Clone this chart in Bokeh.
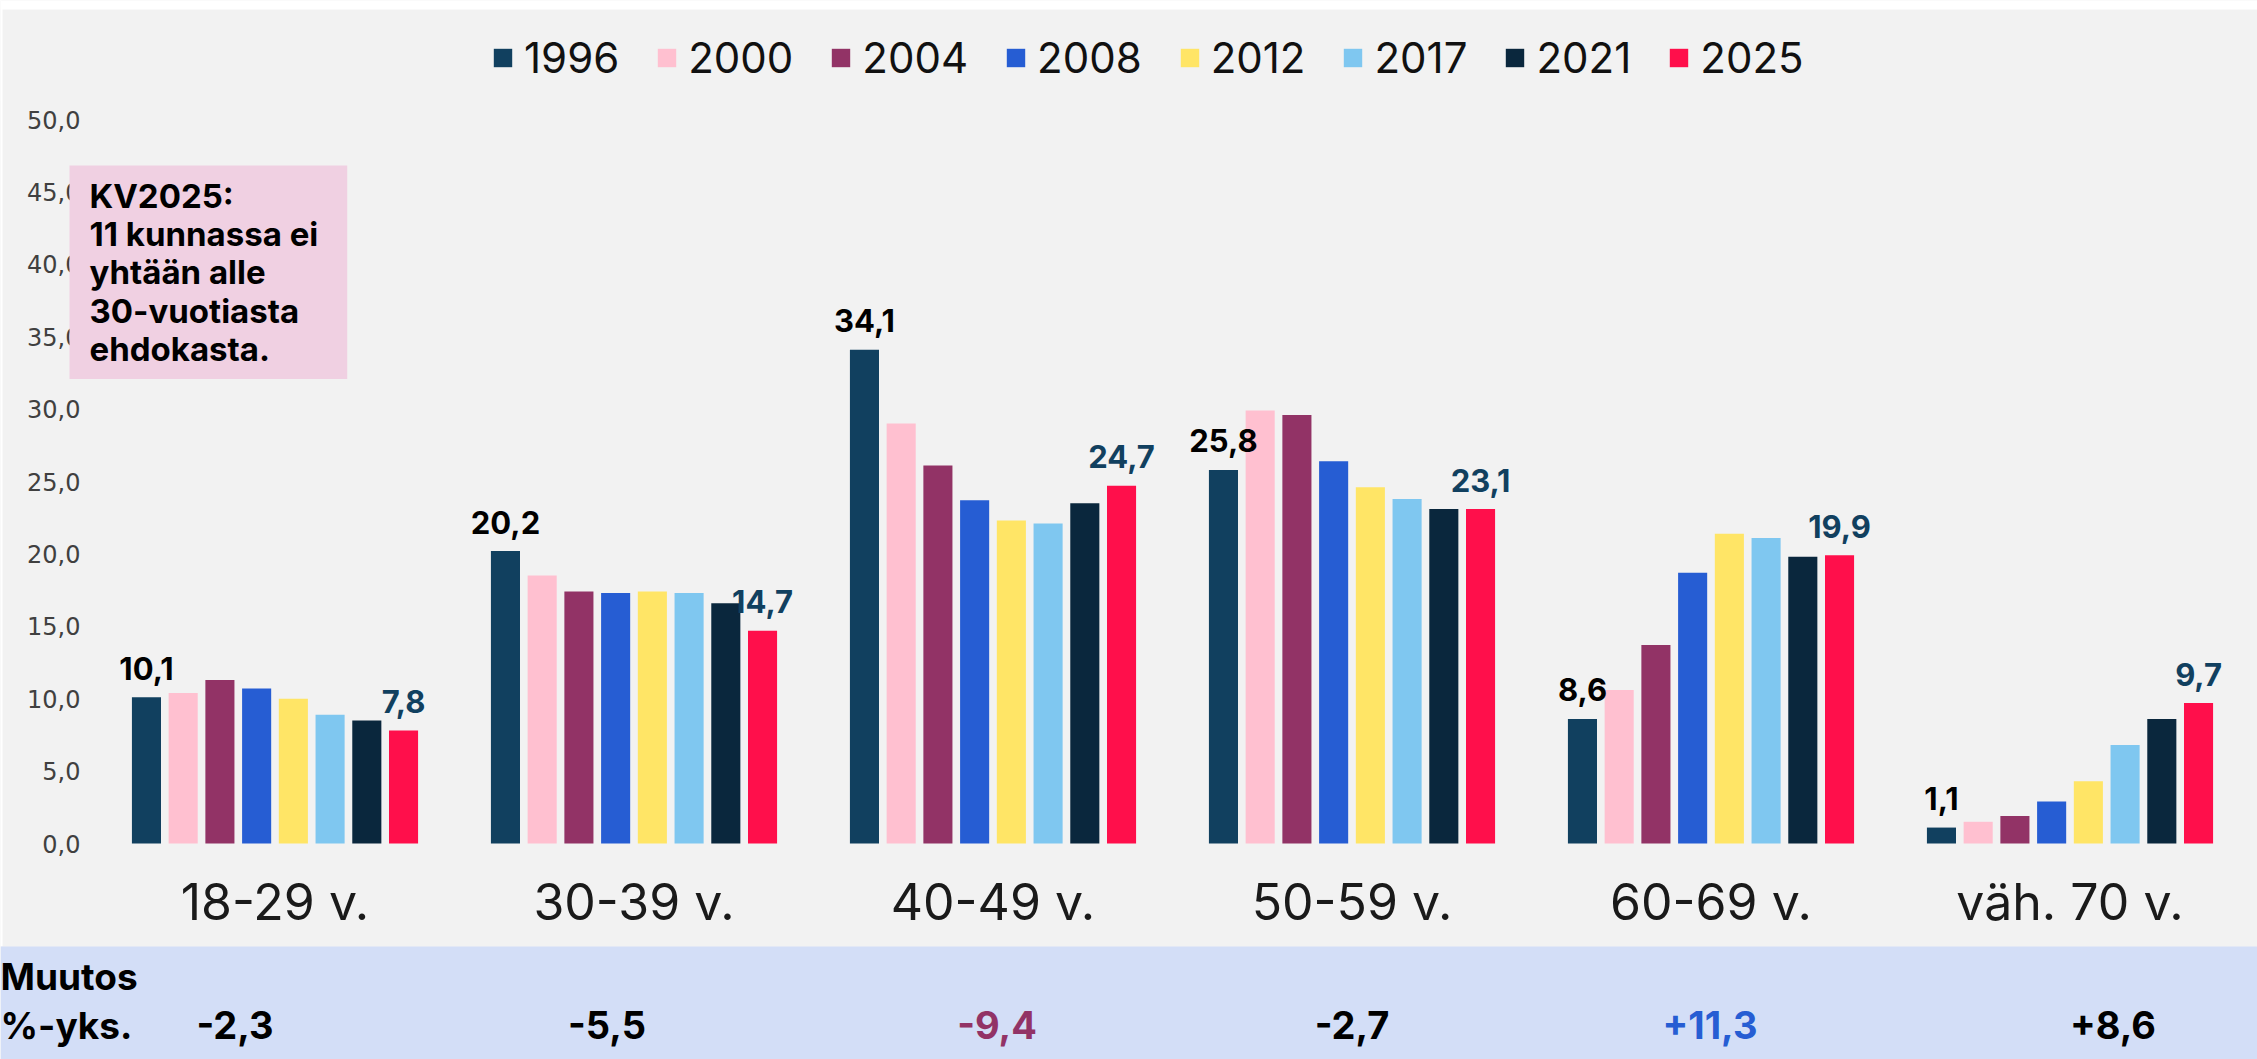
from bokeh.plotting import figure
from bokeh.models import (Range1d, FixedTicker, Legend, LegendItem, LinearAxis,
                          Label, LabelSet, BoxAnnotation, ColumnDataSource)
from bokeh.transform import dodge
from bokeh.embed import file_html
from bokeh.resources import INLINE
from bokeh.core.properties import value

# ---------------- data ----------------
categories = ["18-29 v.", "30-39 v.", "40-49 v.", "50-59 v.", "60-69 v.", "väh. 70 v."]
years = ["1996", "2000", "2004", "2008", "2012", "2017", "2021", "2025"]
v1996 = [10.1, 20.2, 34.1, 25.8, 8.6, 1.1]
v2000 = [10.4, 18.5, 29.0, 29.9, 10.6, 1.5]
v2004 = [11.3, 17.4, 26.1, 29.6, 13.7, 1.9]
v2008 = [10.7, 17.3, 23.7, 26.4, 18.7, 2.9]
v2012 = [10.0, 17.4, 22.3, 24.6, 21.4, 4.3]
v2017 = [8.9, 17.3, 22.1, 23.8, 21.1, 6.8]
v2021 = [8.5, 16.6, 23.5, 23.1, 19.8, 8.6]
v2025 = [7.8, 14.7, 24.7, 23.1, 19.9, 9.7]
series = [v1996, v2000, v2004, v2008, v2012, v2017, v2021, v2025]
change_labels = ["-2,3", "-5,5", "-9,4", "-2,7", "+11,3", "+8,6"]
y_ticks = [0, 5, 10, 15, 20, 25, 30, 35, 40, 45, 50]
note_text = "KV2025:\n11 kunnassa ei\nyhtään alle\n30-vuotiasta\nehdokasta."
strip_titles = ["Muutos", "%-yks."]

# ---------------- style / layout ----------------
colors = ["#11405F", "#FFC0D0", "#923366", "#265DD3", "#FFE566", "#7FC7F0", "#0A273D", "#FF0F4B"]
change_colors = ["#000000", "#000000", "#923366", "#000000", "#265DD3", "#000000"]
CHANGE_NUDGE_PX = [-40, -27, 4, 0, -1, 43]   # text-box placement in the original
FONT = "Inter"
BG = "#F2F2F2"
STRIP_BG = "#D3DEF7"
W, H = 2257, 1059
PLOT_L, PLOT_R = 95, 2249   # canvas x span of the six categories
ZERO_Y = 843                # canvas y of value 0
PX_PER_Y = 14.48
UNIT_PX = (PLOT_R - PLOT_L) / 6.0
PITCH = 0.1023
BAR_W = 0.081

def fmt(v):
    return f"{v:.1f}".replace(".", ",")

def cx(px):   # canvas x -> data x (category i centred on x = i)
    return (px - PLOT_L) / UNIT_PX - 0.5

def cy(py):   # canvas y -> data y
    return (ZERO_Y - py) / PX_PER_Y

cat_x = list(range(len(categories)))

p = figure(width=W, height=H, x_range=Range1d(cx(0), cx(W)),
           y_range=Range1d(cy(H), cy(0)), output_backend="svg",
           toolbar_location=None, x_axis_type=None, y_axis_type=None,
           min_border=0, min_border_left=0, min_border_right=0,
           min_border_top=0, min_border_bottom=0)
p.background_fill_color = BG
p.border_fill_color = BG
p.outline_line_color = None

# axes drawn inside the frame at fixed locations
xaxis = LinearAxis(fixed_location=0, ticker=FixedTicker(ticks=cat_x),
                   major_label_overrides={i: c for i, c in zip(cat_x, categories)})
yaxis = LinearAxis(fixed_location=cx(PLOT_L), ticker=FixedTicker(ticks=y_ticks),
                   major_label_overrides={t: fmt(t) for t in y_ticks})
p.add_layout(xaxis, "below")
p.add_layout(yaxis, "left")
for ax in (xaxis, yaxis):
    ax.axis_line_color = None
    ax.major_tick_line_color = None
    ax.minor_tick_line_color = None
    ax.major_tick_out = 0
    ax.major_tick_in = 0
xaxis.major_label_text_font = FONT
xaxis.major_label_text_font_size = "50px"
xaxis.major_label_text_color = "#1a1a1a"
xaxis.major_label_standoff = 28
yaxis.major_label_text_font = "DejaVu Sans"
yaxis.major_label_text_font_size = "24px"
yaxis.major_label_text_color = "#404040"
yaxis.major_label_standoff = 15

p.xgrid.grid_line_color = None
p.ygrid.ticker = FixedTicker(ticks=y_ticks)
p.ygrid.grid_line_color = "#D9D9D9"
p.ygrid.grid_line_width = 2
# keep the grid lines within the plotting span
p.add_layout(BoxAnnotation(right=cx(97), top=cy(100), bottom=cy(860), level="underlay",
                           fill_color=BG, fill_alpha=1, line_color=None))
p.add_layout(BoxAnnotation(left=cx(2251), top=cy(100), bottom=cy(860), level="underlay",
                           fill_color=BG, fill_alpha=1, line_color=None))

# bars first, value labels afterwards so labels sit on top of neighbouring bars
items = []
sources = []
for i, (yr, vals, col) in enumerate(zip(years, series, colors)):
    off = (i - 3.5) * PITCH
    src = ColumnDataSource(dict(x=cat_x, val=vals, lbl=[fmt(v) for v in vals]))
    sources.append((yr, off, src))
    r = p.vbar(x=dodge("x", off), top="val", width=BAR_W,
               source=src, fill_color=col, line_color=None)
    items.append(LegendItem(label=yr, renderers=[r]))

for yr, off, src in sources:
    if yr in ("1996", "2025"):
        p.text(x=dodge("x", off), y="val", text="lbl", source=src,
               text_align="center", text_baseline="alphabetic", y_offset=-29,
               text_font=value(FONT), text_font_style="bold", text_font_size="31px",
               text_color="#000000" if yr == "1996" else "#11405F")

legend = Legend(items=items, orientation="horizontal", location=(491, H - 83),
                padding=0, margin=0, spacing=36, glyph_width=23, glyph_height=23,
                label_standoff=10, label_text_font=FONT, label_text_font_size="42px",
                label_text_color="#111111", background_fill_alpha=0,
                border_line_color=None)
p.add_layout(legend)

# white bands at the very top and left edge
p.add_layout(BoxAnnotation(bottom=cy(9), fill_color="#FFFFFF", fill_alpha=1,
                           line_color=None))
p.add_layout(BoxAnnotation(right=cx(2), bottom=cy(946), fill_color="#FFFFFF",
                           fill_alpha=1, line_color=None))

# note box
note = Label(x=cx(69), y=cy(165), text=note_text,
             text_font=FONT, text_font_style="bold", text_font_size="33px",
             text_line_height=0.96, text_align="left", text_baseline="top",
             text_color="#000000", background_fill_color="#F0D0E2",
             padding=dict(left=20, right=29, top=10, bottom=10))
p.add_layout(note)

# bottom strip
p.add_layout(BoxAnnotation(top=cy(946), fill_color=STRIP_BG, fill_alpha=1,
                           line_color=None))
title_src = ColumnDataSource(dict(x=[cx(0), cx(0)], y=[cy(989.5), cy(1038.5)],
                                  lbl=strip_titles))
p.add_layout(LabelSet(x="x", y="y", text="lbl", source=title_src,
                      text_align="left", text_baseline="alphabetic",
                      text_font=value(FONT), text_font_style="bold",
                      text_font_size="37px", text_color="#000000"))
chg_src = ColumnDataSource(dict(x=cat_x, lbl=change_labels, col=change_colors,
                                dx=CHANGE_NUDGE_PX,
                                y=[cy(1038.5)] * len(categories)))
p.add_layout(LabelSet(x="x", y="y", text="lbl", text_color="col", source=chg_src,
                      x_offset="dx", text_align="center", text_baseline="alphabetic",
                      text_font=value(FONT), text_font_style="bold",
                      text_font_size="38px"))

open("out.html", "w").write(file_html(p, INLINE))
